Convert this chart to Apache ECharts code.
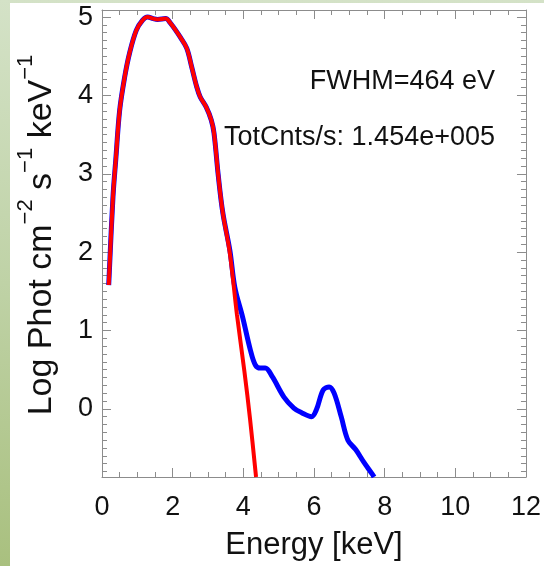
<!DOCTYPE html>
<html>
<head>
<meta charset="utf-8">
<script src="https://cdn.jsdelivr.net/npm/echarts@6/dist/echarts.min.js"></script>
<style>
html, body { margin: 0; padding: 0; width: 544px; height: 566px; overflow: hidden; }
body { background: linear-gradient(to bottom, #d4e2c7 0%, #bfd2a6 50%, #a9c07f 100%); position: relative; }
#panel { position: absolute; left: 10px; top: 3px; right: 0; bottom: 0; background: #ffffff; }
#chart { position: absolute; left: 0; top: 0; width: 544px; height: 566px; }
</style>
</head>
<body>
<div id="panel"></div>
<div id="chart"></div>
<script>
// Model spectrum (red)
const modelEnergy = [0.19, 0.31, 0.39, 0.50, 0.64, 0.78, 0.97, 1.15, 1.29, 1.45, 1.57, 1.80, 1.94, 2.22, 2.40, 2.54, 2.68, 2.78, 2.95, 3.09, 3.17, 3.29, 3.42, 3.62, 3.82, 4.03, 4.19, 4.36];
const modelLog    = [1.58, 2.70, 3.18, 3.81, 4.23, 4.54, 4.83, 4.96, 5.00, 4.98, 4.97, 4.98, 4.92, 4.74, 4.60, 4.36, 4.11, 3.98, 3.85, 3.69, 3.52, 2.98, 2.50, 1.98, 1.20, 0.48, -0.13, -0.87];
// Measured spectrum (blue)
const dataEnergy = [0.19, 0.31, 0.39, 0.50, 0.64, 0.78, 0.97, 1.15, 1.29, 1.45, 1.57, 1.80, 1.94, 2.22, 2.40, 2.54, 2.68, 2.78, 2.95, 3.09, 3.17, 3.29, 3.42, 3.62, 3.76, 3.98, 4.20, 4.34, 4.48, 4.62, 4.82, 5.15, 5.43, 5.65, 5.93, 6.07, 6.26, 6.43, 6.57, 6.77, 6.96, 7.18, 7.41, 7.66, 7.70];
const dataLog    = [1.58, 2.70, 3.18, 3.81, 4.23, 4.54, 4.83, 4.96, 5.00, 4.98, 4.97, 4.98, 4.92, 4.74, 4.60, 4.36, 4.11, 3.98, 3.85, 3.69, 3.52, 2.98, 2.50, 2.02, 1.55, 1.17, 0.75, 0.56, 0.52, 0.52, 0.41, 0.15, 0.01, -0.05, -0.10, -0.01, 0.24, 0.28, 0.20, -0.10, -0.40, -0.52, -0.68, -0.84, -0.87];
// Tick labels
const xTickLabels = [0, 2, 4, 6, 8, 10, 12];
const yTickLabels = [0, 1, 2, 3, 4, 5];
const xMinorStep = 0.5;
const yMinorStep = 0.1;
const xRange = [0, 12];
const yRange = [-0.87, 5.09];
const annotations = ['FWHM=464 eV', 'TotCnts/s: 1.454e+005'];

const xMinor = [];
for (let i = 0; i * xMinorStep <= xRange[1] + 1e-9; i++) {
  const v = +(i * xMinorStep).toFixed(2);
  if (xTickLabels.indexOf(v) < 0) xMinor.push(v);
}
const yMinor = [];
for (let i = Math.ceil(yRange[0] / yMinorStep); i * yMinorStep <= yRange[1] + 1e-9; i++) {
  const v = +(i * yMinorStep).toFixed(2);
  if (yTickLabels.indexOf(v) < 0 && v > yRange[0] && v < yRange[1]) yMinor.push(v);
}

const FONT = '"Liberation Sans", Arial, Helvetica, sans-serif';
const AXC = '#8c8c8c';

function xAx(pos, major, show) {
  return {
    type: 'value', position: pos, min: xRange[0], max: xRange[1],
    axisLine: { show: show, onZero: false, lineStyle: { color: AXC, width: 1 } },
    axisTick: { show: true, inside: true, length: major ? 9 : 5, customValues: major ? xTickLabels : xMinor, lineStyle: { color: AXC, width: 1 } },
    axisLabel: (pos === 'bottom' && major) ? { show: true, customValues: xTickLabels, fontSize: 27, fontFamily: FONT, color: '#111', margin: 17 } : { show: false },
    splitLine: { show: false }
  };
}
function yAx(pos, major, show) {
  return {
    type: 'value', position: pos, min: yRange[0], max: yRange[1],
    axisLine: { show: show, onZero: false, lineStyle: { color: AXC, width: 1 } },
    axisTick: { show: true, inside: true, length: major ? 9 : 5, customValues: major ? yTickLabels : yMinor, lineStyle: { color: AXC, width: 1 } },
    axisLabel: (pos === 'left' && major) ? { show: true, customValues: yTickLabels, fontSize: 27, fontFamily: FONT, color: '#111', margin: 9 } : { show: false },
    splitLine: { show: false }
  };
}

const xAxes = [xAx('bottom', true, true), xAx('bottom', false, false), xAx('top', true, true), xAx('top', false, false)];
xAxes[0].name = 'Energy [keV]';
xAxes[0].nameLocation = 'middle';
xAxes[0].nameGap = 53;
xAxes[0].nameTextStyle = { fontSize: 31, fontFamily: FONT, color: '#111' };

const chart = echarts.init(document.getElementById('chart'), null, { renderer: 'canvas' });
chart.setOption({
  animation: false,
  backgroundColor: 'transparent',
  grid: { left: 102, right: 11, top: 10, bottom: 89, containLabel: false },
  xAxis: xAxes,
  yAxis: [yAx('left', true, true), yAx('left', false, false), yAx('right', true, true), yAx('right', false, false)],
  graphic: [
    {
      type: 'text', x: 37, y: 235, rotation: Math.PI / 2,
      style: {
        text: '{a|Log Phot cm}{s|−2}{a| s}{s|−1}{a| keV}{s|−1}',
        align: 'center', verticalAlign: 'middle',
        rich: {
          a: { fontSize: 34, fontFamily: FONT, fill: '#111', lineHeight: 44, verticalAlign: 'bottom' },
          s: { fontSize: 22, fontFamily: FONT, fill: '#111', lineHeight: 22, verticalAlign: 'top' }
        }
      }
    },
    {
      type: 'text', x: 495, y: 82,
      style: { text: annotations[0], align: 'right', verticalAlign: 'middle', fontSize: 27, fontFamily: FONT, fill: '#111' }
    },
    {
      type: 'text', x: 495, y: 138,
      style: { text: annotations[1], align: 'right', verticalAlign: 'middle', fontSize: 27, fontFamily: FONT, fill: '#111' }
    }
  ],
  series: [
    {
      type: 'line', xAxisIndex: 0, yAxisIndex: 0,
      data: dataEnergy.map((e, i) => [e, dataLog[i]]),
      showSymbol: false, smooth: 0.35, clip: true,
      lineStyle: { color: '#0000ff', width: 5 }, z: 2
    },
    {
      type: 'line', xAxisIndex: 0, yAxisIndex: 0,
      data: modelEnergy.map((e, i) => [e, modelLog[i]]),
      showSymbol: false, smooth: 0.35, clip: true,
      lineStyle: { color: '#ff0000', width: 4 }, z: 3
    }
  ]
});
</script>
</body>
</html>
